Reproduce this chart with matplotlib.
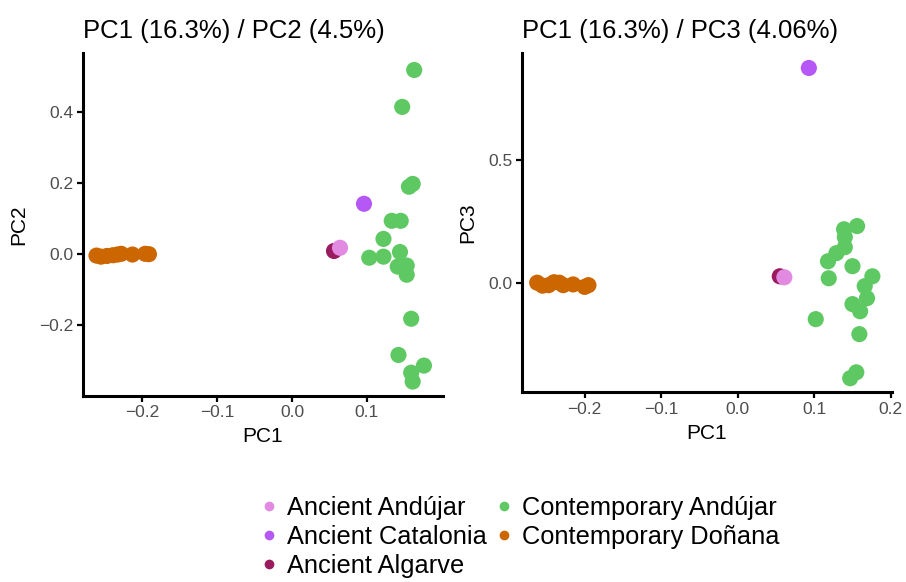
import matplotlib
matplotlib.use("Agg")
import matplotlib.pyplot as plt
from matplotlib.lines import Line2D
from matplotlib.ticker import FuncFormatter

plt.rcParams['font.family'] = ['Liberation Sans', 'DejaVu Sans']

groups = ["Ancient Andújar", "Ancient Catalonia", "Ancient Algarve",
          "Contemporary Andújar", "Contemporary Doñana"]
colors = {"Ancient Andújar": "#E28AE2", "Ancient Catalonia": "#B558F6",
          "Ancient Algarve": "#9B1B5F", "Contemporary Andújar": "#5EC962",
          "Contemporary Doñana": "#CC6600"}

# PC1 / PC2 panel
pc2_x = {
    "Contemporary Doñana": [-0.261, -0.255, -0.247, -0.239, -0.233, -0.228, -0.213, -0.196, -0.191],
    "Contemporary Andújar": [0.163, 0.147, 0.156, 0.161, 0.133, 0.145, 0.122, 0.103, 0.122,
                             0.144, 0.141, 0.153, 0.153, 0.159, 0.142, 0.176, 0.159, 0.161],
    "Ancient Algarve": [0.056],
    "Ancient Andújar": [0.064],
    "Ancient Catalonia": [0.096],
}
pc2_y = {
    "Contemporary Doñana": [-0.005, -0.008, -0.006, -0.004, -0.002, 0.0, -0.002, 0.0, -0.001],
    "Contemporary Andújar": [0.518, 0.414, 0.189, 0.197, 0.093, 0.093, 0.042, -0.011, -0.008,
                             0.005, -0.036, -0.033, -0.059, -0.183, -0.285, -0.315, -0.335, -0.360],
    "Ancient Algarve": [0.008],
    "Ancient Andújar": [0.017],
    "Ancient Catalonia": [0.141],
}

# PC1 / PC3 panel
pc3_x = {
    "Contemporary Doñana": [-0.262, -0.255, -0.247, -0.240, -0.233, -0.228, -0.215, -0.200, -0.195],
    "Contemporary Andújar": [0.156, 0.139, 0.140, 0.140, 0.129, 0.118, 0.150, 0.119, 0.176,
                             0.166, 0.169, 0.150, 0.160, 0.102, 0.159, 0.155, 0.147],
    "Ancient Algarve": [0.055],
    "Ancient Andújar": [0.061],
    "Ancient Catalonia": [0.093],
}
pc3_y = {
    "Contemporary Doñana": [0.002, -0.010, -0.008, 0.004, 0.002, -0.008, -0.005, -0.015, -0.008],
    "Contemporary Andújar": [0.232, 0.219, 0.187, 0.146, 0.122, 0.089, 0.069, 0.020, 0.028,
                             -0.012, -0.061, -0.085, -0.114, -0.146, -0.207, -0.362, -0.386],
    "Ancient Algarve": [0.028],
    "Ancient Andújar": [0.024],
    "Ancient Catalonia": [0.874],
}

draw_order = ["Contemporary Doñana", "Contemporary Andújar", "Ancient Algarve",
              "Ancient Andújar", "Ancient Catalonia"]

fig = plt.figure(figsize=(9.06, 5.82), dpi=100)
ax1 = fig.add_axes([0.0916, 0.320, 0.397, 0.589])
ax2 = fig.add_axes([0.576, 0.326, 0.408, 0.583])

fmt = FuncFormatter(lambda v, pos: f"{v:.1f}".replace("-", "\u2212"))


def style(ax, title, ylab):
    for side in ["top", "right"]:
        ax.spines[side].set_visible(False)
    for side in ["left", "bottom"]:
        ax.spines[side].set_linewidth(2.2)
    ax.tick_params(width=1.6, length=4, labelsize=12.5, labelcolor="#4D4D4D", pad=3)
    ax.set_title(title, loc="left", fontsize=18.5, pad=11)
    ax.set_xlabel("PC1", fontsize=15, labelpad=5)
    ax.set_ylabel(ylab, fontsize=15, labelpad=8)
    ax.xaxis.set_major_formatter(fmt)
    ax.yaxis.set_major_formatter(fmt)


for g in draw_order:
    ax1.scatter(pc2_x[g], pc2_y[g], s=135, color=colors[g], edgecolors="none")
    ax2.scatter(pc3_x[g], pc3_y[g], s=135, color=colors[g], edgecolors="none")

ax1.set_xlim(-0.279, 0.201)
ax1.set_ylim(-0.40, 0.566)
ax1.set_xticks([-0.2, -0.1, 0.0, 0.1])
ax1.set_yticks([-0.2, 0.0, 0.2, 0.4])
style(ax1, "PC1 (16.3%) / PC2 (4.5%)", "PC2")

ax2.set_xlim(-0.282, 0.201)
ax2.set_ylim(-0.443, 0.935)
ax2.set_xticks([-0.2, -0.1, 0.0, 0.1, 0.2])
ax2.set_yticks([0.0, 0.5])
style(ax2, "PC1 (16.3%) / PC3 (4.06%)", "PC3")

handles = [Line2D([], [], marker="o", linestyle="none", markersize=7,
                  markerfacecolor=colors[g], markeredgecolor="none", label=g)
           for g in groups]
fig.legend(handles=handles, ncol=2, loc="upper left", bbox_to_anchor=(0.272, 0.166),
           frameon=False, fontsize=18.3, handletextpad=0.2, columnspacing=0.18,
           labelspacing=0.2, handlelength=1.0, borderaxespad=0)

fig.savefig("out.png", dpi=100)
